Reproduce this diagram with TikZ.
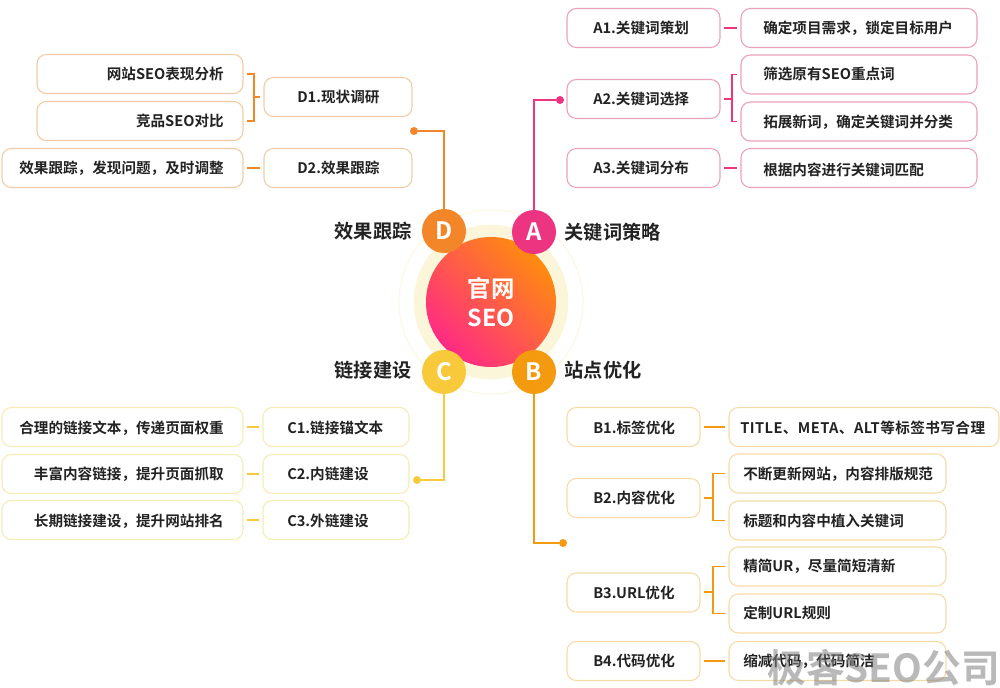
\documentclass[tikz,border=0pt]{standalone}
\usepackage{fontspec}
\setmainfont{Noto Sans CJK SC}[BoldFont={Noto Sans CJK SC Bold}]
\usetikzlibrary{positioning}
\definecolor{seoA}{HTML}{EC3480}
\definecolor{seoB}{HTML}{F39A0E}
\definecolor{seoC}{HTML}{F8C93A}
\definecolor{seoD}{HTML}{F4862A}
\definecolor{rimA}{HTML}{EBA0BC}
\definecolor{rimB}{HTML}{F6DBA6}
\definecolor{rimC}{HTML}{F8EBB4}
\definecolor{rimD}{HTML}{F2CBA4}
\definecolor{txt}{HTML}{222222}
\definecolor{ballhi}{HTML}{FF8C0E}
\definecolor{ballmid}{HTML}{FF7020}
\definecolor{balllo}{HTML}{FF2A84}

\begin{document}
\begin{tikzpicture}[x=0.75pt, y=-0.75pt,
		box/.style={draw=#1, line width=0.8pt, rounded corners=7pt, minimum height=29.25pt, inner sep=0pt},
		tag/.style={inner sep=0pt, font=\fontsize{10.95pt}{12pt}\selectfont\bfseries, text=txt},
		head/.style={font=\fontsize{14.4pt}{16pt}\selectfont\bfseries, text=txt},
		letter/.style={circle, fill=#1, minimum size=33pt, inner sep=0pt, text=white, font=\fontsize{18pt}{20pt}\selectfont\bfseries},
		dot/.style={circle, fill=#1, minimum size=6pt, inner sep=0pt},
		stub/.style={draw=#1, line width=1.4pt, shorten <=2.5pt, shorten >=2.5pt},
		trunk/.style={draw=#1, line width=1.4pt},
		elbow/.style={to path={|- (\tikztotarget)}}]
	\useasboundingbox (0,0) rectangle (1000,688);

	% middle
	\node [circle, draw=rimC!40, line width=0.8pt, minimum size=138pt, inner sep=0pt] (ring) at (491,302) {};
	\node [circle, fill=rimC!50!white, minimum size=116pt, inner sep=0pt] (halo) at (491,302) {};
	\node [circle, minimum size=97.5pt, inner sep=0pt, shading=axis, top color=ballhi, middle color=ballmid, bottom color=balllo, shading angle=-45,
		text=white, align=center, font=\fontsize{17.5pt}{22pt}\selectfont\bfseries] (seo) at (491,302) {官网\\SEO};
	\node [letter=seoA] (A) at (534,232) {A};
	\node [letter=seoB] (B) at (534,372) {B};
	\node [letter=seoC] (C) at (444,372) {C};
	\node [letter=seoD] (D) at (444,231) {D};
	\node [head, right=2.8pt of A] (Ahead) {关键词策略};
	\node [head, right=2.8pt of B, yshift=1.5pt] (Bhead) {站点优化};
	\node [head, left=4.2pt of C, yshift=1pt] (Chead) {链接建设};
	\node [head, left=4.2pt of D] (Dhead) {效果跟踪};

	% A
	\node [box=rimA, minimum width=114.75pt] (A1) at (643.5,28) {};
	\node [box=rimA, minimum width=114.75pt] (A2) at (643.5,99) {};
	\node [box=rimA, minimum width=114.75pt] (A3) at (643.5,168) {};
	\node [box=rimA, minimum width=177pt] (A1r) at (859,28) {};
	\node [box=rimA, minimum width=177pt] (A2a) at (859,74.5) {};
	\node [box=rimA, minimum width=177pt] (A2b) at (859,121.5) {};
	\node [box=rimA, minimum width=177pt] (A3r) at (859,168) {};
	\node [tag, anchor=west] (A1t) at (593,28) {A1.关键词策划};
	\node [tag, anchor=west] (A2t) at (593,99) {A2.关键词选择};
	\node [tag, anchor=west] (A3t) at (593,168) {A3.关键词分布};
	\node [tag, anchor=west] (A1rt) at (763,28) {确定项目需求，锁定目标用户};
	\node [tag, anchor=west] (A2at) at (763,74) {筛选原有SEO重点词};
	\node [tag, anchor=west] (A2bt) at (763,122) {拓展新词，确定关键词并分类};
	\node [tag, anchor=west] (A3rt) at (763,170) {根据内容进行关键词匹配};
	\coordinate (A2m) at (732,99);
	\node [dot=seoA] (Adot) at (560,100) {};
	\path[stub=seoA] (A1) edge (A1r);
	\path[stub=seoA] (A3) edge (A3r);
	\path[stub=seoA, shorten >=0pt] (A2) edge (A2m);
	\path[stub=seoA, shorten <=0pt] (A2m) edge [elbow] (A2a);
	\path[stub=seoA, shorten <=0pt] (A2m) edge [elbow] (A2b);
	\path[trunk=seoA] (A) edge [elbow] (Adot);

	% B
	\node [box=rimB, minimum width=99.75pt] (B1) at (633.5,427) {};
	\node [box=rimB, minimum width=99.75pt] (B2) at (633.5,498) {};
	\node [box=rimB, minimum width=99.75pt] (B3) at (633.5,592.5) {};
	\node [box=rimB, minimum width=99.75pt] (B4) at (633.5,661) {};
	\node [box=rimB, minimum width=202.5pt] (B1r) at (864,427) {};
	\node [box=rimB, minimum width=162.75pt] (B2a) at (837.5,473.5) {};
	\node [box=rimB, minimum width=162.75pt] (B2b) at (837.5,520.5) {};
	\node [box=rimB, minimum width=162.75pt] (B3a) at (837.5,566.5) {};
	\node [box=rimB, minimum width=162.75pt] (B3b) at (837.5,613.5) {};
	\node [box=rimB, minimum width=162.75pt] (B4r) at (837.5,661) {};
	\node [tag, anchor=west] (B1t) at (593,428) {B1.标签优化};
	\node [tag, anchor=west] (B2t) at (593,498) {B2.内容优化};
	\node [tag, anchor=west] (B3t) at (593,593) {B3.URL优化};
	\node [tag, anchor=west] (B4t) at (593,661) {B4.代码优化};
	\node [tag, anchor=west] (B1rt) at (740,428) {\addfontfeature{LetterSpace=3}TITLE、META、ALT等标签书写合理};
	\node [tag, anchor=west] (B2at) at (743,474) {不断更新网站，内容排版规范};
	\node [tag, anchor=west] (B2bt) at (743,521) {标题和内容中植入关键词};
	\node [tag, anchor=west] (B3at) at (743,566) {精简UR，尽量简短清新};
	\node [tag, anchor=west] (B3bt) at (743,613) {定制URL规则};
	\node [tag, anchor=west] (B4rt) at (743,661) {缩减代码，代码简洁};
	\coordinate (B2m) at (713,498);
	\coordinate (B3m) at (713,592);
	\node [dot=seoB] (Bdot) at (563,543) {};
	\path[stub=seoB] (B1) edge (B1r);
	\path[stub=seoB] (B4) edge (B4r);
	\path[stub=seoB, shorten >=0pt] (B2) edge (B2m);
	\path[stub=seoB, shorten <=0pt] (B2m) edge [elbow] (B2a);
	\path[stub=seoB, shorten <=0pt] (B2m) edge [elbow] (B2b);
	\path[stub=seoB, shorten >=0pt] (B3) edge (B3m);
	\path[stub=seoB, shorten <=0pt] (B3m) edge [elbow] (B3a);
	\path[stub=seoB, shorten <=0pt] (B3m) edge [elbow] (B3b);
	\path[trunk=seoB] (B) edge [elbow] (Bdot);

	% C
	\node [box=rimC, minimum width=180.75pt] (C1l) at (122.5,427) {};
	\node [box=rimC, minimum width=180.75pt] (C2l) at (122.5,474) {};
	\node [box=rimC, minimum width=180.75pt] (C3l) at (122.5,520) {};
	\node [box=rimC, minimum width=109.5pt] (C1) at (336,427) {};
	\node [box=rimC, minimum width=109.5pt] (C2) at (336,474) {};
	\node [box=rimC, minimum width=109.5pt] (C3) at (336,520) {};
	\node [tag, anchor=east] (C1lt) at (224,428) {合理的链接文本，传递页面权重};
	\node [tag, anchor=east] (C2lt) at (224,474) {丰富内容链接，提升页面抓取};
	\node [tag, anchor=east] (C3lt) at (224,521) {长期链接建设，提升网站排名};
	\node [tag, anchor=west] (C1t) at (287,428) {C1.链接锚文本};
	\node [tag, anchor=west] (C2t) at (287,474) {C2.内链建设};
	\node [tag, anchor=west] (C3t) at (287,521) {C3.外链建设};
	\node [dot=seoC] (Cdot) at (417,480) {};
	\path[stub=seoC] (C1) edge (C1l);
	\path[stub=seoC] (C2) edge (C2l);
	\path[stub=seoC] (C3) edge (C3l);
	\path[trunk=seoC] (C) edge [elbow] (Cdot);

	% D
	\node [box=rimD, minimum width=154.5pt] (D1a) at (140,74) {};
	\node [box=rimD, minimum width=154.5pt] (D1b) at (140,121) {};
	\node [box=rimD, minimum width=180.75pt] (D2l) at (122.5,168) {};
	\node [box=rimD, minimum width=111pt] (D1) at (338,97) {};
	\node [box=rimD, minimum width=111pt] (D2) at (338,168) {};
	\node [tag, anchor=east] (D1at) at (224,74) {网站SEO表现分析};
	\node [tag, anchor=east] (D1bt) at (224,121) {竞品SEO对比};
	\node [tag, anchor=east] (D2lt) at (224,168) {效果跟踪，发现问题，及时调整};
	\node [tag, anchor=west] (D1t) at (297,97) {D1.现状调研};
	\node [tag, anchor=west] (D2t) at (297,168) {D2.效果跟踪};
	\coordinate (D1m) at (254,97);
	\node [dot=seoD] (Ddot) at (414,131) {};
	\path[stub=seoD] (D2) edge (D2l);
	\path[stub=seoD, shorten >=0pt] (D1) edge (D1m);
	\path[stub=seoD, shorten <=0pt] (D1m) edge [elbow] (D1a);
	\path[stub=seoD, shorten <=0pt] (D1m) edge [elbow] (D1b);
	\path[trunk=seoD] (D) edge [elbow] (Ddot);

	% corner mark
	\node [anchor=east, inner sep=0pt, text=gray, opacity=0.55, font=\fontsize{29pt}{32pt}\selectfont\bfseries] (mark) at (1000,668) {极客SEO公司};
\end{tikzpicture}
\end{document}
